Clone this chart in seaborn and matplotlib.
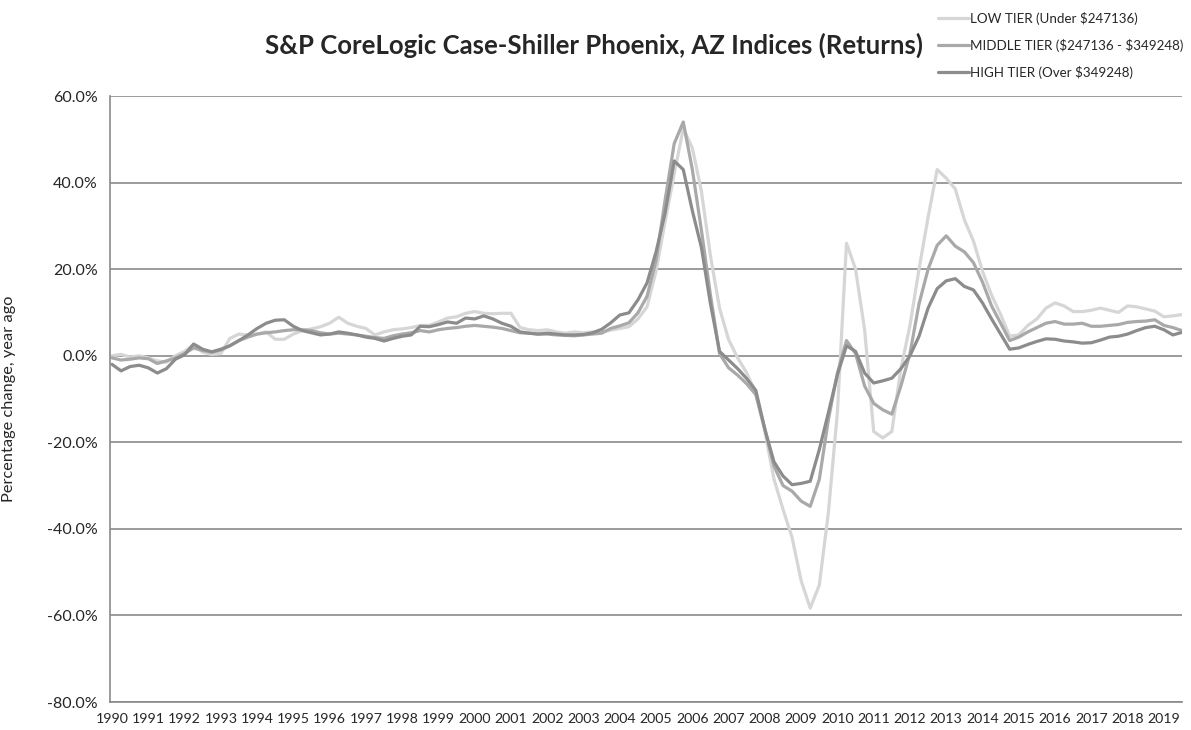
import numpy as np
import pandas as pd
import matplotlib
matplotlib.use("Agg")
import matplotlib.pyplot as plt
import seaborn as sns

# quarterly readings, Jan 1990 .. Jul 2019 (year-over-year % change)
quarters = np.arange(1990, 2019.75, 0.25)

high_tier = [
    -2.0, -3.5, -2.5, -2.2,   # 1990
    -2.8, -4.0, -3.0, -0.8,   # 1991
    0.2, 2.7, 1.5, 0.9,       # 1992
    1.5, 2.3, 3.5, 4.8,       # 1993
    6.3, 7.5, 8.2, 8.3,       # 1994
    6.8, 5.8, 5.3, 4.8,       # 1995
    5.0, 5.5, 5.2, 4.8,       # 1996
    4.3, 4.0, 3.4, 4.0,       # 1997
    4.5, 4.8, 6.8, 6.7,       # 1998
    7.2, 7.8, 7.5, 8.7,       # 1999
    8.5, 9.2, 8.5, 7.5,       # 2000
    6.8, 5.5, 5.2, 5.0,       # 2001
    5.2, 5.0, 4.8, 4.8,       # 2002
    4.9, 5.3, 6.1, 7.6,       # 2003
    9.4, 9.9, 12.9, 16.8,     # 2004
    24.0, 33.0, 45.0, 43.0,   # 2005
    33.5, 25.0, 12.0, 1.0,    # 2006
    -1.0, -3.0, -5.3, -8.0,   # 2007
    -17.0, -24.5, -27.8, -29.8,  # 2008
    -29.5, -29.0, -21.7, -13.2,  # 2009
    -4.4, 2.3, 1.0, -4.0,     # 2010
    -6.3, -5.8, -5.2, -3.0,   # 2011
    0.0, 4.5, 11.0, 15.5,     # 2012
    17.3, 17.8, 16.0, 15.2,   # 2013
    12.2, 8.5, 5.0, 1.5,      # 2014
    1.8, 2.6, 3.3, 3.9,       # 2015
    3.8, 3.4, 3.2, 2.9,       # 2016
    3.0, 3.6, 4.3, 4.5,       # 2017
    5.0, 5.8, 6.5, 6.8,       # 2018
    6.0, 4.8, 5.4,            # 2019
]

middle_tier = [
    -0.5, -1.0, -0.8, -0.5,
    -0.7, -1.8, -1.2, -0.5,
    0.5, 1.8, 1.2, 0.8,
    1.3, 2.3, 3.5, 4.3,
    5.0, 5.3, 5.5, 5.8,
    6.0, 6.0, 5.8, 5.3,
    5.0, 5.2, 5.0, 4.8,
    4.5, 4.2, 4.0, 4.6,
    5.0, 5.3, 5.8, 5.5,
    6.0, 6.3, 6.5, 6.8,
    7.0, 6.8, 6.6, 6.3,
    5.8, 5.3, 5.2, 5.0,
    5.0, 4.8, 4.7, 4.6,
    4.8, 5.0, 5.2, 6.3,
    6.9, 7.6, 9.9, 13.7,
    22.0, 36.0, 49.0, 54.0,
    43.0, 29.0, 14.0, 0.5,
    -2.8, -4.5, -6.5, -9.0,
    -17.0, -25.5, -30.0, -31.3,
    -33.6, -34.8, -28.6, -14.8,
    -4.0, 3.5, 0.5, -7.0,
    -11.0, -12.5, -13.5, -7.0,
    0.5, 12.0, 20.0, 25.5,
    27.7, 25.3, 24.0, 21.5,
    17.0, 11.5, 7.5, 3.5,
    4.3, 5.5, 6.5, 7.5,
    7.9, 7.3, 7.3, 7.5,
    6.8, 6.8, 7.0, 7.2,
    7.7, 7.9, 8.0, 8.3,
    7.0, 6.5, 5.8,
]

low_tier = [
    0.0, 0.3, -0.3, 0.0,
    -0.5, -1.2, -1.5, 0.0,
    1.0, 2.5, 0.8, 0.3,
    0.5, 4.0, 5.0, 4.8,
    5.0, 5.5, 3.8, 3.8,
    5.0, 5.8, 6.2, 6.7,
    7.5, 8.9, 7.5, 6.8,
    6.3, 4.8, 5.5, 6.0,
    6.2, 6.5, 7.0, 7.0,
    7.8, 8.7, 9.0, 9.8,
    10.2, 9.8, 9.7, 9.8,
    9.8, 6.5, 6.0, 5.8,
    6.0, 5.5, 5.2, 5.5,
    5.3, 5.5, 5.5, 5.9,
    6.3, 6.7, 8.5, 11.3,
    19.5, 31.0, 42.0, 52.5,
    48.0, 38.0, 23.0, 11.0,
    3.7, -0.5, -4.0, -8.6,
    -17.5, -28.5, -35.5, -42.0,
    -52.0, -58.3, -53.0, -36.3,
    -13.0, 26.0, 20.0, 6.0,
    -17.5, -19.0, -17.5, -3.0,
    7.0, 20.0, 32.0, 43.0,
    41.0, 38.5, 31.4, 26.5,
    19.5, 14.0, 9.5, 4.5,
    4.8, 7.0, 8.5, 11.0,
    12.2, 11.5, 10.2, 10.2,
    10.5, 11.0, 10.5, 10.0,
    11.5, 11.3, 10.8, 10.3,
    9.0, 9.2, 9.5,
]

tier_names = [r"LOW TIER (Under \$247136)",
              r"MIDDLE TIER (\$247136 - \$349248)",
              r"HIGH TIER (Over \$349248)"]
tier_colors = ["#d6d6d6", "#a9a9a9", "#8c8c8c"]
year_labels = [str(y) for y in range(1990, 2020)]
y_ticks = [-80, -60, -40, -20, 0, 20, 40, 60]

df = pd.DataFrame({
    "date": np.concatenate([quarters] * 3),
    "value": low_tier + middle_tier + high_tier,
    "tier": np.repeat(tier_names, len(quarters)),
})

sns.set_theme(style="white")
plt.rcParams["font.family"] = ["Lato", "DejaVu Sans"]

fig = plt.figure(figsize=(11.91, 7.30), dpi=100)
ax = fig.add_axes([110 / 1191, 1 - 702 / 730, 1072 / 1191, 606 / 730])

sns.lineplot(data=df, x="date", y="value", hue="tier", hue_order=tier_names,
             palette=tier_colors, linewidth=2.3, ax=ax, legend=False)

ax.set_xlim(1989.945, 2019.5)
ax.set_ylim(-80, 60)
ax.set_yticks(y_ticks)
ax.set_yticklabels([f"{v:.1f}%" for v in y_ticks], fontsize=11.5, color="#262626")
ax.set_xticks(range(1990, 2020))
ax.set_xticklabels(year_labels, fontsize=10.2, color="#262626")
ax.yaxis.grid(True, color="#8a8a8a", linewidth=1.2)
ax.set_axisbelow(True)
for side in ["top", "right"]:
    ax.spines[side].set_visible(False)
for side in ["left", "bottom"]:
    ax.spines[side].set_color("#8a8a8a")
    ax.spines[side].set_linewidth(1.2)
ax.tick_params(axis="y", length=5, color="#8a8a8a", width=1.2, pad=4)
ax.tick_params(axis="x", length=0, pad=8)
ax.set_xlabel("")
ax.set_ylabel("Percentage change, year ago", fontsize=11.8, color="#262626", labelpad=22)

fig.text(594 / 1191, 1 - 45 / 730,
         "S&P CoreLogic Case-Shiller Phoenix, AZ Indices (Returns)",
         ha="center", va="center", fontsize=18.5, fontweight="bold", color="#262626")

handles = [plt.Line2D([], [], color=c, linewidth=2.3) for c in tier_colors]
fig.legend(handles, tier_names, loc="upper left",
           bbox_to_anchor=(926 / 1191, 1.0), frameon=False,
           fontsize=9.6, handlelength=2.3, handletextpad=0.1,
           labelspacing=1.05, labelcolor="#262626")

fig.savefig("out.png", dpi=100)
